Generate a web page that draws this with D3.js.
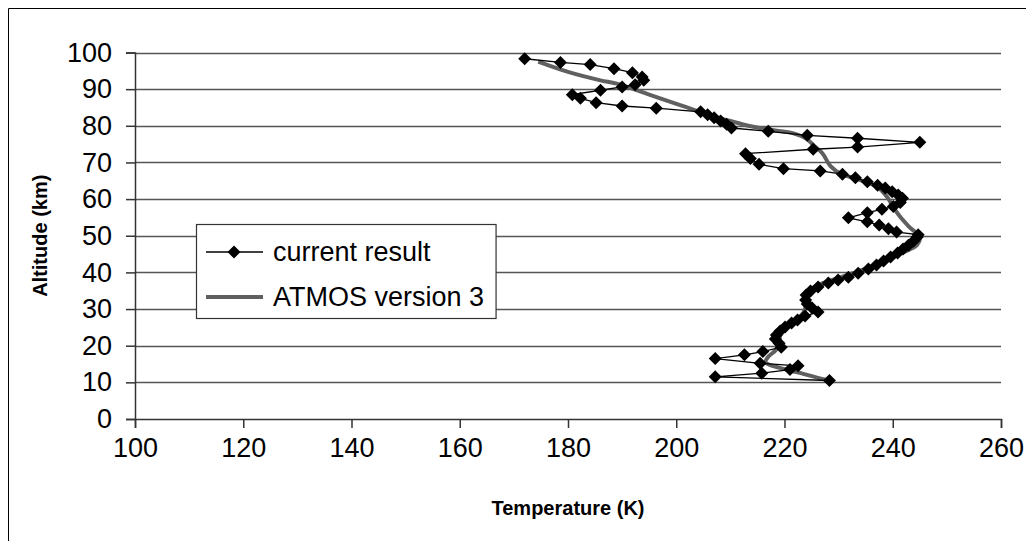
<!doctype html>
<html>
<head>
<meta charset="utf-8">
<script src="https://cdn.jsdelivr.net/npm/d3@7"></script>
<style>
  body { margin: 0; background: #fff; }
  svg text { font-family: "Liberation Sans", Arial, sans-serif; fill: #000; }
</style>
</head>
<body>
<svg id="chart" width="1026" height="541"></svg>
<script>
  // tick values
  var xTicks = [100, 120, 140, 160, 180, 200, 220, 240, 260];
  var yTicks = [0, 10, 20, 30, 40, 50, 60, 70, 80, 90, 100];

  // "current result" profile (K, km)
  var currentTemp = [172.0, 178.6, 184.1, 188.5, 191.9, 193.7, 194.0, 192.4, 190.0, 186.0,
    180.8, 182.3, 185.2, 190.0, 196.3, 204.5, 205.8, 207.0, 208.2, 209.3,
    210.2, 217.0, 224.2, 233.5, 245.0, 233.5, 225.3, 212.8, 213.7, 215.3,
    219.8, 226.6, 230.7, 233.1, 235.3, 237.2, 238.6, 239.9, 241.0, 241.8,
    241.4, 240.1, 238.0, 235.3, 231.8, 235.3, 237.5, 239.2, 240.7, 244.7,
    244.5, 243.8, 242.9, 241.9, 240.9, 239.6, 238.3, 237.0, 235.5, 233.6,
    231.8, 229.9, 228.1, 226.2, 224.8, 224.0, 223.9, 224.2, 225.1, 226.2,
    223.8, 222.4, 221.3, 220.1, 219.2, 218.5, 218.3, 219.0, 219.4, 216.0,
    212.6, 207.2, 215.5, 222.5, 221.0, 215.8, 207.2, 228.3];
  var currentAlt = [98.3, 97.3, 96.7, 95.6, 94.5, 93.3, 92.4, 91.2, 90.6, 89.7,
    88.5, 87.5, 86.3, 85.4, 84.8, 83.8, 83.0, 82.2, 81.3, 80.4,
    79.4, 78.5, 77.4, 76.6, 75.5, 74.2, 73.6, 72.4, 71.1, 69.5,
    68.3, 67.7, 66.8, 65.8, 64.7, 63.8, 63.0, 62.0, 61.1, 60.2,
    59.1, 58.0, 57.2, 56.3, 54.9, 53.8, 52.9, 51.9, 51.0, 50.3,
    49.6, 48.5, 47.4, 46.4, 45.3, 44.2, 43.1, 42.0, 40.9, 39.8,
    38.7, 37.9, 37.1, 36.0, 34.9, 33.8, 32.5, 31.4, 30.3, 29.2,
    28.1, 27.0, 26.2, 25.1, 24.0, 22.9, 21.8, 20.7, 19.6, 18.4,
    17.5, 16.5, 15.2, 14.5, 13.5, 12.5, 11.5, 10.5];

  // ATMOS version 3 reference profile
  var atmosTemp = [174.5, 180.0, 186.0, 189.0, 195.0, 201.0, 206.0, 210.0, 214.0, 218.0,
    221.5, 224.0, 225.5, 227.0, 228.5, 230.3, 234.0, 237.2, 239.0, 240.1,
    241.4, 243.0, 245.0, 244.5, 242.0, 238.5, 234.0, 229.0, 225.5, 224.0,
    224.0, 223.5, 221.5, 219.5, 219.0, 218.5, 217.0, 216.5, 219.0, 223.0,
    226.0, 228.2];
  var atmosAlt = [97.5, 94.7, 92.4, 91.5, 88.5, 85.5, 83.0, 81.3, 79.8, 78.8,
    78.0, 76.5, 74.5, 72.5, 69.0, 67.0, 65.2, 63.3, 60.5, 57.8,
    55.1, 52.5, 49.5, 47.5, 45.5, 43.0, 40.5, 38.0, 36.0, 34.0,
    31.5, 29.0, 26.5, 24.0, 21.5, 19.0, 17.0, 15.5, 14.0, 12.5,
    11.3, 10.5];

  var seriesNames = ['current result', 'ATMOS version 3'];

  var svg = d3.select('#chart');

  // outer chart frame (only top and left edges are visible)
  svg.append('path')
    .attr('d', 'M8.5,541V8.5H1026')
    .attr('fill', 'none')
    .attr('stroke', '#000')
    .attr('stroke-width', 1);

  var x = d3.scaleLinear().domain([100, 260]).range([135, 1001]);
  var y = d3.scaleLinear().domain([0, 100]).range([419, 52.5]);

  // gridlines
  svg.append('g')
    .selectAll('line')
    .data(yTicks.filter(function (d) { return d > 0; }))
    .join('line')
    .attr('x1', x(100)).attr('x2', x(260))
    .attr('y1', function (d) { return Math.round(y(d)) + 0.5; })
    .attr('y2', function (d) { return Math.round(y(d)) + 0.5; })
    .attr('stroke', '#555')
    .attr('stroke-width', 1.5);

  // axes
  var xAxis = d3.axisBottom(x).tickValues(xTicks).tickSize(9).tickPadding(10);
  var yAxis = d3.axisLeft(y).tickValues(yTicks).tickSize(9).tickPadding(14);

  var gx = svg.append('g').attr('transform', 'translate(0,' + y(0) + ')').call(xAxis);
  var gy = svg.append('g').attr('transform', 'translate(' + x(100) + ',0)').call(yAxis);

  [gx, gy].forEach(function (g) {
    g.select('.domain').attr('stroke', '#333').attr('stroke-width', 1.5);
    g.selectAll('.tick line').attr('stroke', '#333').attr('stroke-width', 1.5);
    g.selectAll('.tick text')
      .attr('font-family', '"Liberation Sans", Arial, sans-serif')
      .attr('font-size', 27)
      .attr('fill', '#000');
  });

  // axis titles
  svg.append('text')
    .attr('x', (x(100) + x(260)) / 2)
    .attr('y', 515)
    .attr('text-anchor', 'middle')
    .attr('font-size', 20)
    .attr('font-weight', 'bold')
    .text('Temperature (K)');

  svg.append('text')
    .attr('transform', 'translate(47,' + ((y(0) + y(100)) / 2) + ') rotate(-90)')
    .attr('text-anchor', 'middle')
    .attr('font-size', 20)
    .attr('font-weight', 'bold')
    .text('Altitude (km)');

  var current = currentTemp.map(function (t, i) { return [t, currentAlt[i]]; });
  var atmos = atmosTemp.map(function (t, i) { return [t, atmosAlt[i]]; });

  var line = d3.line()
    .x(function (d) { return x(d[0]); })
    .y(function (d) { return y(d[1]); });

  var smooth = d3.line()
    .curve(d3.curveCatmullRom.alpha(0.5))
    .x(function (d) { return x(d[0]); })
    .y(function (d) { return y(d[1]); });

  svg.append('path')
    .datum(atmos)
    .attr('d', smooth)
    .attr('fill', 'none')
    .attr('stroke', '#606060')
    .attr('stroke-width', 4)
    .attr('stroke-linejoin', 'round');

  svg.append('path')
    .datum(current)
    .attr('d', line)
    .attr('fill', 'none')
    .attr('stroke', '#000')
    .attr('stroke-width', 1.3);

  var diamond = 'M0,-6.5L6.5,0L0,6.5L-6.5,0Z';

  svg.append('g')
    .selectAll('path')
    .data(current)
    .join('path')
    .attr('d', diamond)
    .attr('transform', function (d) { return 'translate(' + x(d[0]) + ',' + y(d[1]) + ')'; })
    .attr('fill', '#000');

  // legend
  var legend = svg.append('g');
  legend.append('rect')
    .attr('x', 196.5).attr('y', 224.5)
    .attr('width', 300).attr('height', 94)
    .attr('fill', '#fff')
    .attr('stroke', '#333')
    .attr('stroke-width', 1.2);

  var rows = legend.selectAll('g.row')
    .data(seriesNames)
    .join('g')
    .attr('class', 'row')
    .attr('transform', function (d, i) { return 'translate(0,' + (252 + i * 45) + ')'; });

  rows.append('line')
    .attr('x1', 206).attr('x2', 263)
    .attr('stroke', function (d, i) { return i === 0 ? '#000' : '#606060'; })
    .attr('stroke-width', function (d, i) { return i === 0 ? 1.3 : 4; });

  rows.filter(function (d, i) { return i === 0; })
    .append('path')
    .attr('d', diamond)
    .attr('transform', 'translate(234,0)')
    .attr('fill', '#000');

  rows.append('text')
    .attr('x', 273)
    .attr('y', 9)
    .attr('font-size', 27)
    .text(function (d) { return d; });

  // fit legend box to its text
  var maxW = 0;
  rows.selectAll('text').each(function () { maxW = Math.max(maxW, this.getComputedTextLength()); });
  legend.select('rect').attr('width', 273 + maxW + 12 - 196.5);
</script>
</body>
</html>
